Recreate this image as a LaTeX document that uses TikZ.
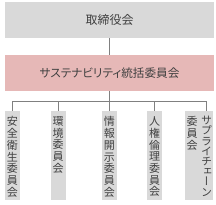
\documentclass[tikz,border=0pt]{standalone}
\usepackage{fontspec}
\newfontfamily\jpfont{Noto Sans CJK JP}
\newfontfamily\jpvfont[RawFeature=+vert]{Noto Sans CJK JP}
\newfontfamily\jppfont[RawFeature=+palt]{Noto Sans CJK JP}
\definecolor{boxgray}{HTML}{D9D9D9}
\definecolor{boxpink}{HTML}{E6B8B7}
\definecolor{txt}{HTML}{404040}
\definecolor{linec}{HTML}{808080}
\begin{document}
\begin{tikzpicture}[x=1pt,y=-1pt,
  hbox/.style={fill=boxgray, draw=none, minimum width=209pt, minimum height=36pt,
    inner sep=0pt, text=txt, font=\jppfont\fontsize{12}{14}\selectfont},
  vbox/.style={fill=boxgray, draw=none, minimum height=89pt, inner sep=0pt, anchor=south},
  vtext/.style={anchor=north, align=center, inner sep=0pt, text=txt,
    font=\jpvfont\fontsize{11}{11.7}\selectfont},
  conn/.style={draw=linec, line width=0.9pt}]
\useasboundingbox (0,0) rectangle (216,204);
\node[hbox] (top) at (109.5,20) {取締役会};
\node[hbox, fill=boxpink, font=\jppfont\fontsize{11.6}{14}\selectfont] (mid) at (109.5,73) {サステナビリティ統括委員会};
\coordinate (bus) at (110,101);
\node[vbox, minimum width=14.5pt] (b1) at (12.25,200) {};
\node[vbox, minimum width=15pt] (b2) at (58,200) {};
\node[vbox, minimum width=14.5pt] (b3) at (109.25,200) {};
\node[vbox, minimum width=15pt] (b4) at (154.5,200) {};
\node[vbox, minimum width=27.7pt] (b5) at (198.9,200) {};
\coordinate (d5) at (206.5,111);
\node[vtext] (t1) at (12.25,116.5) {安\\全\\衛\\生\\委\\員\\会};
\node[vtext] (t2) at (58,116.5) {環\\境\\委\\員\\会};
\node[vtext] (t3) at (109.25,116.5) {情\\報\\開\\示\\委\\員\\会};
\node[vtext] (t4) at (154.5,116.5) {人\\権\\倫\\理\\委\\員\\会};
\node[vtext, font=\jpvfont\fontsize{11}{10.2}\selectfont] (t5a) at (206.5,116) {サ\\プ\\ラ\\イ\\チ\\ェ\\ー\\ン};
\node[vtext] (t5b) at (192,116.5) {委\\員\\会};
\draw[conn] (top) -- (mid);
\draw[conn] (mid.south) -- (mid.south |- bus);
\draw[conn] (b1.north) -- (b1.north |- bus) -- (d5 |- bus) -- (d5);
\draw[conn] (b2.north) -- (b2.north |- bus);
\draw[conn] (b3.north) -- (b3.north |- bus);
\draw[conn] (b4.north) -- (b4.north |- bus);
\end{tikzpicture}
\end{document}
